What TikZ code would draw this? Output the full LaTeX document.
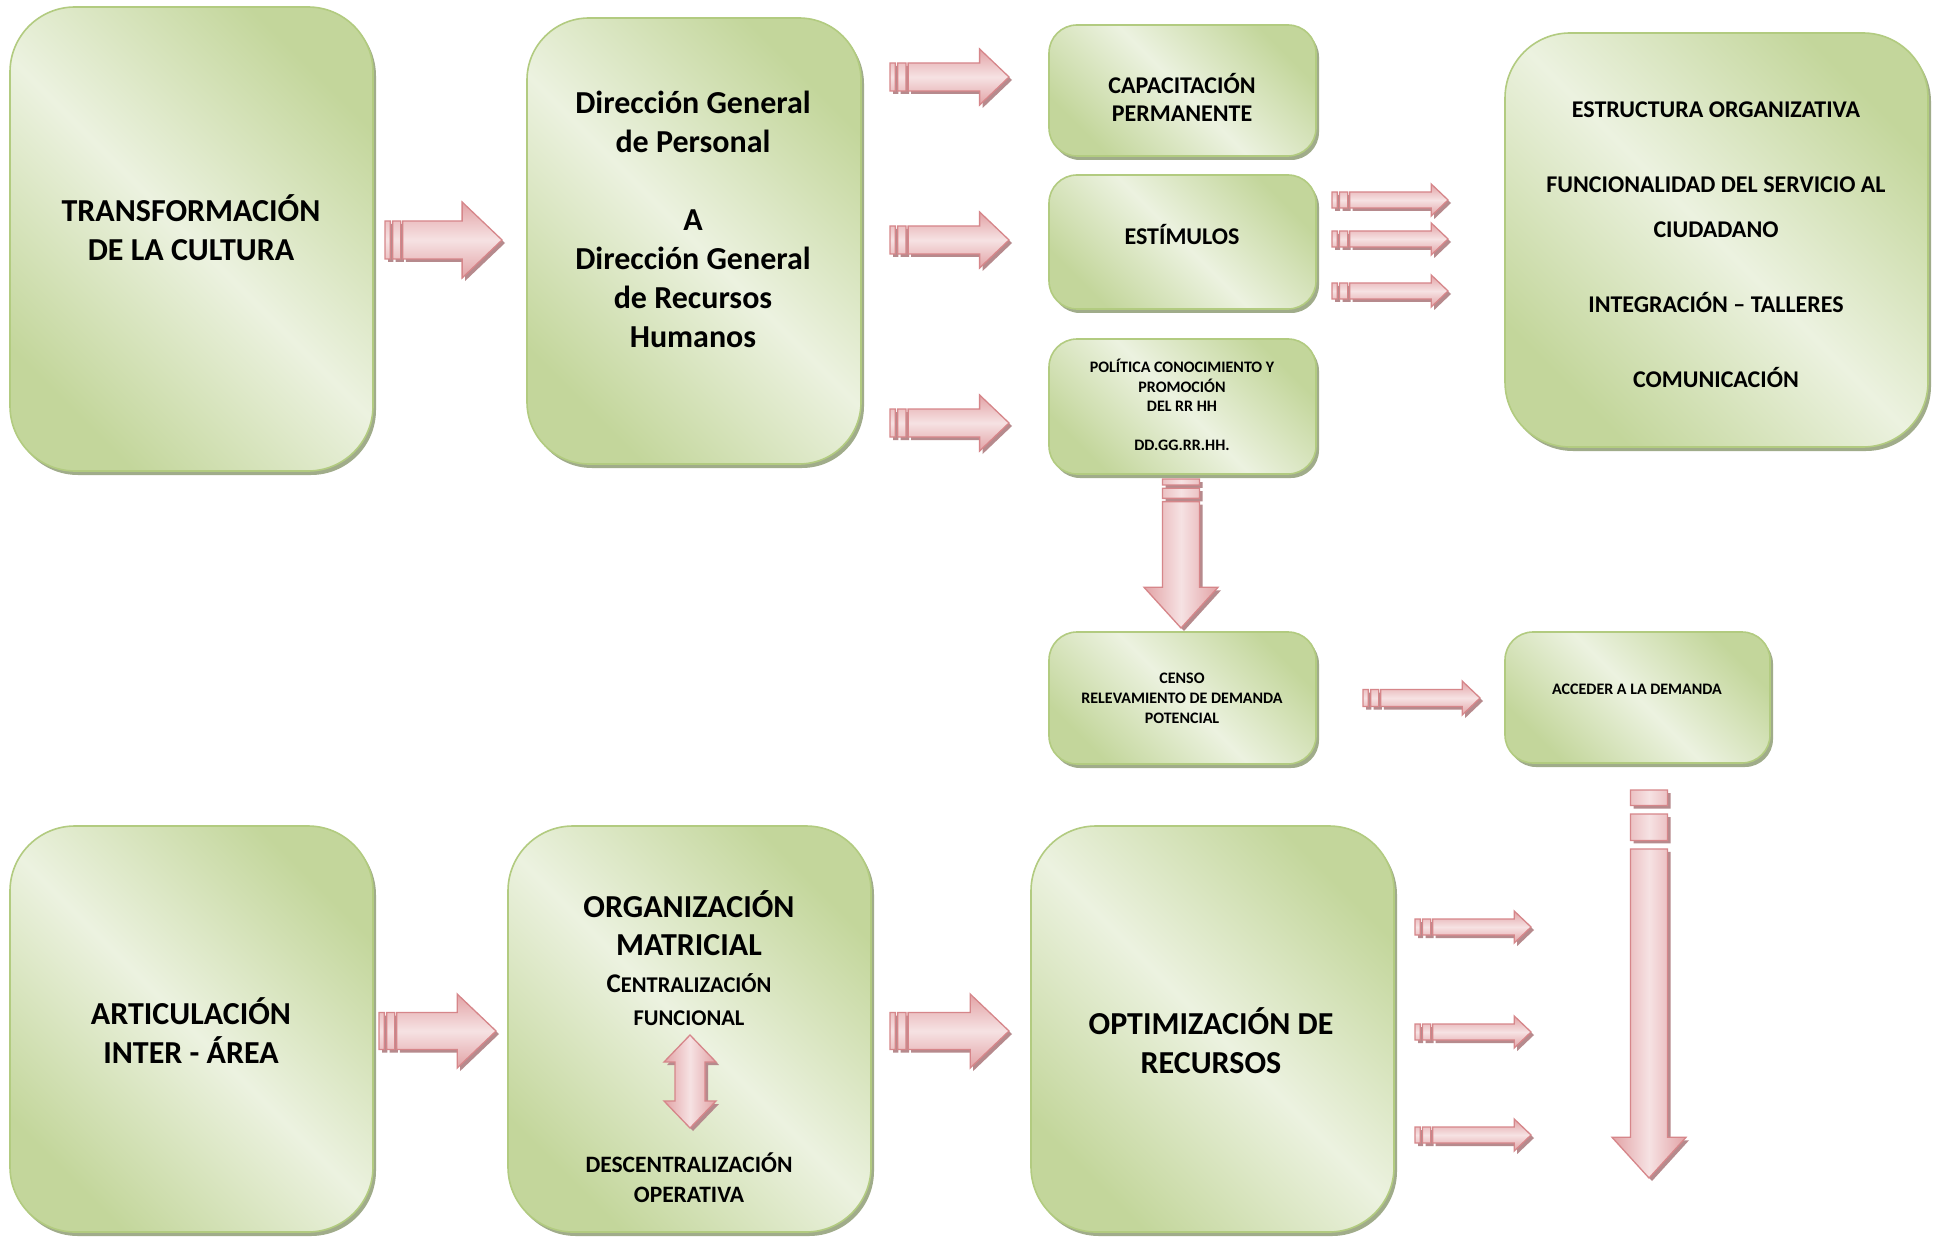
\documentclass[tikz,border=0pt]{standalone}
\usepackage{fontspec}
\setmainfont{Carlito}
\usetikzlibrary{shadows}
\definecolor{greenD}{RGB}{195,214,155}
\definecolor{greenL}{RGB}{236,242,224}
\definecolor{greenB}{RGB}{178,203,128}
\definecolor{shadowG}{RGB}{160,172,138}
\definecolor{pinkE}{RGB}{226,162,165}
\definecolor{pinkL}{RGB}{246,226,227}
\definecolor{pinkB}{RGB}{214,134,138}
\definecolor{shadowP}{RGB}{182,138,141}
\tikzset{
 gbox/.style={draw=greenB, line width=1.6pt, top color=greenD, bottom color=greenD, middle color=greenL, shading angle=-45,
   general shadow={fill=shadowG, shadow xshift=3pt, shadow yshift=-4pt}, inner sep=0pt},
 bigt/.style={align=center, inner sep=0pt, font=\bfseries\fontsize{32}{39}\selectfont},
 midt/.style={align=center, inner sep=0pt, font=\bfseries\fontsize{24}{28}\selectfont},
 smallt/.style={align=center, inner sep=0pt, font=\bfseries\fontsize{16}{20}\selectfont},
 arbody/.style={draw=pinkB, line width=1.3pt, top color=pinkE, bottom color=pinkE, middle color=pinkL},
 arbodyv/.style={draw=pinkB, line width=1.3pt, left color=pinkE, right color=pinkE, middle color=pinkL},
 arshadow/.style={fill=shadowP},
}
\newcommand\greenbox[6]{%
 \pgfmathsetmacro\gbW{#4-#2}\pgfmathsetmacro\gbH{#5-#3}%
 \pgfmathsetmacro\gbX{(#2+#4)/2}\pgfmathsetmacro\gbY{(#3+#5)/2}%
 \node[gbox, rounded corners=#6pt, minimum width=\gbW pt, minimum height=\gbH pt] (#1) at (\gbX,\gbY) {};}
\newcommand\harrow[4]{%
 \pgfmathsetmacro\arX{#1}\pgfmathsetmacro\arY{#2}%
 \pgfmathsetmacro\arL{#3}\pgfmathsetmacro\arH{#4}%
 \pgfmathsetmacro\arS{0.5*\arH}%
 \pgfmathsetmacro\arA{\arX+0.045*\arL}%
 \pgfmathsetmacro\arB{\arX+0.065*\arL}%
 \pgfmathsetmacro\arC{\arX+0.135*\arL}%
 \pgfmathsetmacro\arD{\arX+0.152*\arL}%
 \pgfmathsetmacro\arE{\arX+\arL-1.05*\arH}%
 \pgfmathsetmacro\arF{\arX+\arL}%
 \pgfmathsetmacro\arT{\arY-\arS}\pgfmathsetmacro\arBo{\arY+\arS}%
 \pgfmathsetmacro\arHT{\arY-\arH}\pgfmathsetmacro\arHB{\arY+\arH}%
 \begin{scope}[shift={(3,3)}]
 \fill[arshadow] (\arX,\arT) rectangle (\arA,\arBo) (\arB,\arT) rectangle (\arC,\arBo)
   (\arD,\arT) -- (\arE,\arT) -- (\arE,\arHT) -- (\arF,\arY) -- (\arE,\arHB) -- (\arE,\arBo) -- (\arD,\arBo) -- cycle;
 \end{scope}
 \path[arbody] (\arX,\arT) rectangle (\arA,\arBo) (\arB,\arT) rectangle (\arC,\arBo)
   (\arD,\arT) -- (\arE,\arT) -- (\arE,\arHT) -- (\arF,\arY) -- (\arE,\arHB) -- (\arE,\arBo) -- (\arD,\arBo) -- cycle;
}
\newcommand\varrow[4]{%
 \pgfmathsetmacro\arX{#1}\pgfmathsetmacro\arY{#2}%
 \pgfmathsetmacro\arL{#3}\pgfmathsetmacro\arH{#4}%
 \pgfmathsetmacro\arS{0.5*\arH}%
 \pgfmathsetmacro\arA{\arY+0.04*\arL}%
 \pgfmathsetmacro\arB{\arY+0.062*\arL}%
 \pgfmathsetmacro\arC{\arY+0.13*\arL}%
 \pgfmathsetmacro\arD{\arY+0.152*\arL}%
 \pgfmathsetmacro\arE{\arY+\arL-1.1*\arH}%
 \pgfmathsetmacro\arF{\arY+\arL}%
 \pgfmathsetmacro\arT{\arX-\arS}\pgfmathsetmacro\arBo{\arX+\arS}%
 \pgfmathsetmacro\arHT{\arX-\arH}\pgfmathsetmacro\arHB{\arX+\arH}%
 \begin{scope}[shift={(3,3)}]
 \fill[arshadow] (\arT,\arY) rectangle (\arBo,\arA) (\arT,\arB) rectangle (\arBo,\arC)
   (\arT,\arD) -- (\arT,\arE) -- (\arHT,\arE) -- (\arX,\arF) -- (\arHB,\arE) -- (\arBo,\arE) -- (\arBo,\arD) -- cycle;
 \end{scope}
 \path[arbodyv] (\arT,\arY) rectangle (\arBo,\arA) (\arT,\arB) rectangle (\arBo,\arC)
   (\arT,\arD) -- (\arT,\arE) -- (\arHT,\arE) -- (\arX,\arF) -- (\arHB,\arE) -- (\arBo,\arE) -- (\arBo,\arD) -- cycle;
}
\begin{document}
\begin{tikzpicture}[x=1pt,y=-1pt]
\useasboundingbox (0,0) rectangle (1934,1238);
\fill[white] (0,0) rectangle (1934,1238);

% boxes
\greenbox{transf}{10}{7}{373}{471}{65}
\greenbox{dir}{527}{18}{861}{464}{62}
\greenbox{cap}{1049}{25}{1316}{156}{28}
\greenbox{est}{1049}{175}{1316}{309}{28}
\greenbox{pol}{1049}{339}{1316}{474}{28}
\greenbox{estr}{1505}{33}{1928}{447}{65}
\greenbox{censo}{1049}{632}{1316}{764}{28}
\greenbox{acc}{1505}{632}{1770}{763}{28}
\greenbox{artic}{10}{826}{373}{1232}{65}
\greenbox{org}{508}{826}{871}{1232}{65}
\greenbox{opt}{1031}{826}{1394}{1232}{65}

% texts
\node[bigt] (transf-t) at (191,228) {TRANSFORMACIÓN\\DE LA CULTURA};
\node[bigt] (dir-t) at (693,219) {Dirección General\\de Personal\\[39pt]A\\Dirección General\\de Recursos\\Humanos};
\node[midt] (cap-t) at (1182,97) {CAPACITACIÓN\\PERMANENTE};
\node[midt] (est-t) at (1182,235) {ESTÍMULOS};
\node[smallt, font=\bfseries\fontsize{16}{19.5}\selectfont] (pol-t) at (1182,405) {POLÍTICA CONOCIMIENTO Y\\PROMOCIÓN\\DEL RR HH\\[19.5pt]DD.GG.RR.HH.};
\node[midt, font=\bfseries\fontsize{24}{45}\selectfont] (estr-t) at (1716,245) {ESTRUCTURA ORGANIZATIVA\\[30pt]FUNCIONALIDAD DEL SERVICIO AL\\CIUDADANO\\[30pt]INTEGRACIÓN – TALLERES\\[30pt]COMUNICACIÓN};
\node[smallt] (censo-t) at (1182,698) {CENSO\\RELEVAMIENTO DE DEMANDA\\POTENCIAL};
\node[smallt] (acc-t) at (1637,689) {ACCEDER A LA DEMANDA};
\node[bigt] (artic-t) at (191,1031) {ARTICULACIÓN\\INTER - ÁREA};
\node[bigt, font=\bfseries\fontsize{32}{38}\selectfont] (org-t1) at (689,923) {ORGANIZACIÓN\\MATRICIAL};
\node[align=center, inner sep=0pt, font=\bfseries\fontsize{22.5}{33}\selectfont] (org-t2) at (689,1000)
  {{\fontsize{27}{33}\selectfont C}ENTRALIZACIÓN\\FUNCIONAL};
\node[align=center, inner sep=0pt, font=\bfseries\fontsize{23.5}{30}\selectfont] (org-t3) at (689,1178) {DESCENTRALIZACIÓN\\OPERATIVA};
\node[bigt] (opt-t) at (1211,1041) {OPTIMIZACIÓN DE\\RECURSOS};

% double arrow inside org
\begin{scope}[shift={(3,3)}]
\fill[arshadow] (690,1035) -- (716,1062) -- (705,1062) -- (705,1101) -- (716,1101) -- (690,1128) -- (664,1101) -- (675,1101) -- (675,1062) -- (664,1062) -- cycle;
\end{scope}
\path[arbodyv] (690,1035) -- (716,1062) -- (705,1062) -- (705,1101) -- (716,1101) -- (690,1128) -- (664,1101) -- (675,1101) -- (675,1062) -- (664,1062) -- cycle;

% block arrows
\harrow{385}{240}{117}{38}
\harrow{890}{77}{119}{28}
\harrow{890}{240}{119}{28}
\harrow{890}{423}{119}{28}
\harrow{1332}{200}{116}{16}
\harrow{1332}{239}{116}{16}
\harrow{1332}{291}{116}{16}
\varrow{1181}{479}{149}{37}
\harrow{1363}{698}{117}{17}
\harrow{379}{1031}{117}{37}
\harrow{890}{1031}{119}{37}
\harrow{1415}{927}{116}{16}
\harrow{1415}{1032}{116}{16}
\harrow{1415}{1135}{116}{16}
\varrow{1649}{790}{388}{37}
\end{tikzpicture}
\end{document}
